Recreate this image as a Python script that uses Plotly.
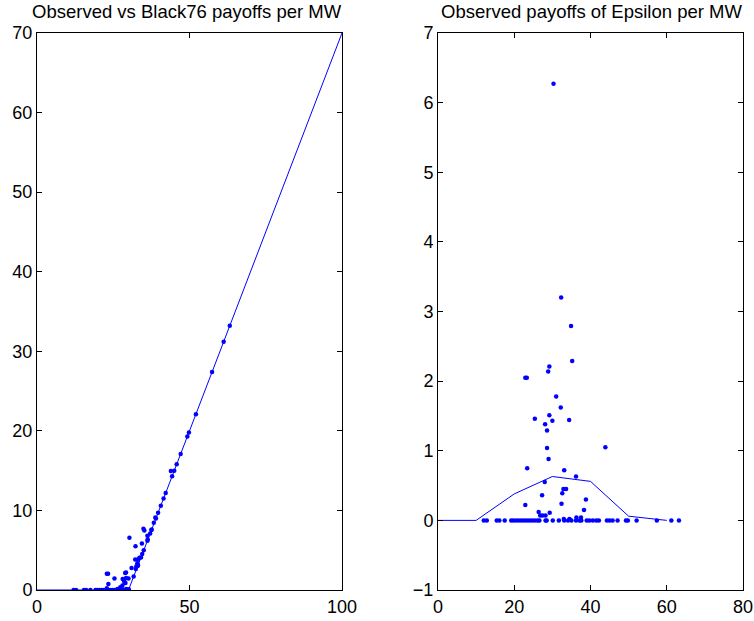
import plotly.graph_objects as go

# ---- data ----
# spot price / strike-type variable for each observation
obs_x = [12.0, 12.8, 15.4, 16.1, 17.5, 19.2, 19.8, 20.5, 21.2, 21.9, 22.6, 23.3, 24.0, 24.7,
         25.4, 26.1, 26.6, 28.2, 28.5, 30.1, 31.7, 33.1, 34.1, 35.0, 36.2, 37.1, 37.6, 39.0,
         39.7, 40.6, 41.5, 42.2, 44.3, 45.0, 45.8, 47.1, 49.3, 49.8, 52.1, 57.4, 61.2, 63.2,
         32.3, 34.9, 35.2, 29.2, 28.9, 22.9, 23.3, 31.0, 32.2, 25.4, 34.4, 29.2, 30.0, 28.1,
         28.6, 28.6, 43.9, 29.0, 23.4, 33.1, 36.2, 28.0, 32.9, 33.6, 32.6, 27.3, 38.8, 32.4,
         22.9, 38.3, 26.4, 29.3, 26.8, 27.4, 28.2, 36.3, 37.5, 33.0, 34.5, 30.3]

# epsilon (observed minus Black76) per MW
obs_eps = [0, 0, 0, 0, 0, 0, 0, 0, 0, 0, 0, 0, 0, 0,
           0, 0, 0, 0, 0, 0, 0, 0, 0, 0, 0, 0, 0, 0,
           0, 0, 0, 0, 0, 0, 0, 0, 0, 0, 0, 0, 0, 0,
           3.20, 2.79, 2.29, 2.21, 2.14, 2.05, 2.05, 1.78, 1.62, 1.46, 1.44, 1.51, 1.43, 1.38,
           1.29, 1.04, 1.05, 0.88, 0.75, 0.72, 0.63, 0.55, 0.45, 0.45, 0.39, 0.36, 0.30, 0.24,
           0.22, 0.15, 0.12, 0.11, 0.07, 0.07, 0.07, 0.04, 0.04, 0.02, 0.02, 6.27]

# observed payoff per MW
obs_payoff = [0, 0, 0, 0, 0, 0, 0, 0, 0, 0, 0, 0, 0, 0,
              0, 0, 0, 0, 0, 0.1, 1.7, 3.1, 4.1, 5.0, 6.2, 7.1, 7.6, 9.0,
              9.7, 10.6, 11.5, 12.2, 14.3, 15.0, 15.8, 17.1, 19.3, 19.8, 22.1, 27.4, 31.2, 33.2,
              5.50, 7.69, 7.49, 2.21, 2.14, 2.05, 2.05, 2.78, 3.82, 1.46, 5.84, 1.51, 1.43, 1.38,
              1.29, 1.04, 14.95, 0.88, 0.75, 3.82, 6.83, 0.55, 3.35, 4.05, 2.99, 0.36, 9.10, 2.64,
              0.22, 8.45, 0.12, 0.11, 0.07, 0.07, 0.07, 6.34, 7.54, 3.02, 4.52, 6.57]

# Black76 payoff curve
b76_x = [0, 10, 20, 30, 40, 50, 60, 70, 80, 90, 100]
b76_y = [0, 0, 0, 0, 10, 20, 30, 40, 50, 60, 70]

# smoothed epsilon curve
eps_line_x = [0, 10, 20, 30, 40, 50, 60]
eps_line_y = [0, 0, 0.38, 0.63, 0.56, 0.06, 0.0]

left_xticks = [0, 50, 100]
left_yticks = [0, 10, 20, 30, 40, 50, 60, 70]
right_xticks = [0, 20, 40, 60, 80]
right_yticks = [-1, 0, 1, 2, 3, 4, 5, 6, 7]

BLUE = "#0000FF"
FONT = "Liberation Sans, Arial, sans-serif"

fig = go.Figure()
fig.add_trace(go.Scatter(x=b76_x, y=b76_y, mode="lines", line=dict(color=BLUE, width=1),
                         xaxis="x", yaxis="y", hoverinfo="skip"))
fig.add_trace(go.Scatter(x=obs_x, y=obs_payoff, mode="markers",
                         marker=dict(color=BLUE, size=4.5, line=dict(width=0)),
                         xaxis="x", yaxis="y"))
fig.add_trace(go.Scatter(x=eps_line_x, y=eps_line_y, mode="lines", line=dict(color=BLUE, width=1),
                         xaxis="x2", yaxis="y2", hoverinfo="skip"))
fig.add_trace(go.Scatter(x=obs_x, y=obs_eps, mode="markers",
                         marker=dict(color=BLUE, size=4.5, line=dict(width=0)),
                         xaxis="x2", yaxis="y2"))

# the page's body margin is removed below, so the figure fills the window
W, H = 754, 621
axis_common = dict(showgrid=False, zeroline=False, showline=True, linecolor="black", linewidth=1,
                   mirror="allticks", ticks="inside", ticklen=5, tickcolor="black",
                   automargin=False,
                   tickfont=dict(family=FONT, size=18, color="black"), fixedrange=True)


def px_x(p):
    return p / W


def px_y(p):
    return 1 - p / H


ydom = [px_y(590), px_y(33)]
fig.update_layout(
    width=W, height=H,
    margin=dict(l=0, r=0, t=0, b=0, pad=0, autoexpand=False),
    paper_bgcolor="white", plot_bgcolor="white",
    showlegend=False,
    xaxis=dict(domain=[px_x(37), px_x(342)], range=[0, 100], tickvals=left_xticks, anchor="y",
               **axis_common),
    yaxis=dict(domain=ydom, range=[0, 70], tickvals=left_yticks, anchor="x", **axis_common),
    xaxis2=dict(domain=[px_x(438), px_x(743)], range=[0, 80], tickvals=right_xticks, anchor="y2",
                **axis_common),
    yaxis2=dict(domain=ydom, range=[-1, 7], tickvals=right_yticks, anchor="x2",
                tickformat="d", **axis_common),
    annotations=[
        dict(text="Observed vs Black76 payoffs per MW", x=px_x(187), y=px_y(12),
             xref="paper", yref="paper", showarrow=False, xanchor="center", yanchor="middle",
             font=dict(family=FONT, size=18.5, color="black")),
        dict(text="Observed payoffs of Epsilon per MW", x=px_x(591), y=px_y(12),
             xref="paper", yref="paper", showarrow=False, xanchor="center", yanchor="middle",
             font=dict(family=FONT, size=18.5, color="black")),
    ],
)

fig.write_html(
    "out.html",
    config={"displayModeBar": False},
    post_script="document.body.style.margin='0';document.body.style.overflow='hidden';",
)
